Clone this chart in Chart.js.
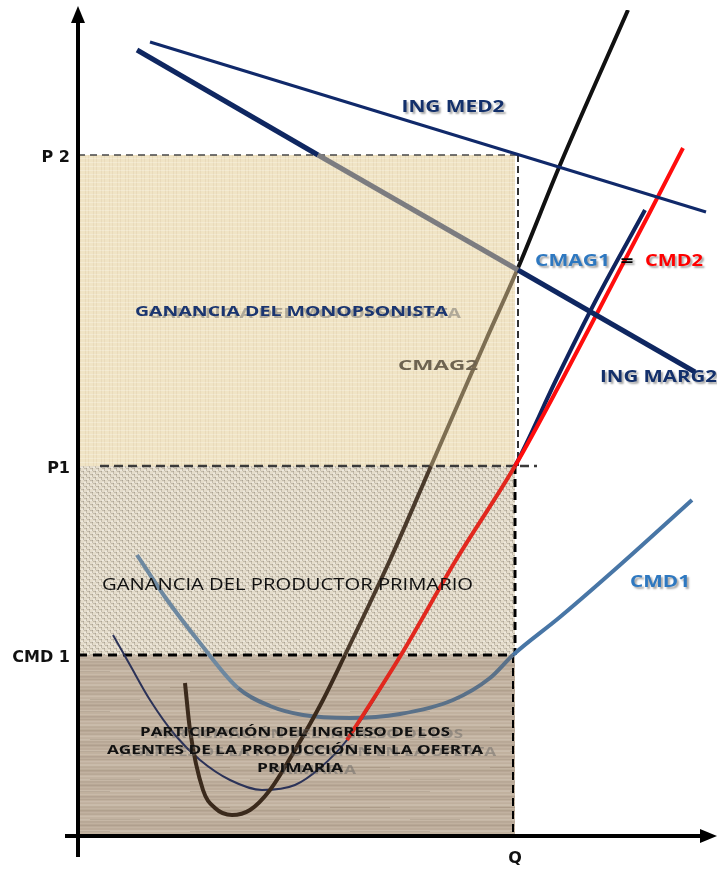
<!DOCTYPE html>
<html>
<head>
<meta charset="utf-8">
<script src="https://cdn.jsdelivr.net/npm/chart.js@4.4.1/dist/chart.umd.min.js"></script>
<style>
html,body{margin:0;padding:0;background:#fff;}
#wrap{width:717px;height:869px;position:relative;}
</style>
</head>
<body>
<div id="wrap"><canvas id="c"></canvas></div>
<script>
// ---- levels (price axis) and quantity ----
const P2 = 681, P1 = 370, CMD1_LEVEL = 181, Q = 437;
const yTickValues = [P2, P1, CMD1_LEVEL];
const yTickLabels = ['P 2', 'P1', 'CMD 1'];
const xTickValues = [Q];
const xTickLabels = ['Q'];

// ---- curves ----
const ingMed2X  = [72, 628];
const ingMed2Y  = [794, 624];
const ingMarg2X = [59, 240, 440, 617];
const ingMarg2Y = [786, 681, 566, 464];
const cmag2X = [107,112,125,137,154,172,192,217,245,267,312,353,408,440,482,550];
const cmag2Y = [153,106, 46, 28, 21, 26, 46, 86,136,181,276,370,496,568,671,826];
const cmd1X  = [59, 87,122,160,192,225,272,322,375,412,435,482,542,614];
const cmd1Y  = [281,239,193,148,130,121,118,122,136,158,181,219,271,336];
const cmag1X = [35, 52, 72, 97,122,152,184,217,242,269,323,378,437,478,518,567];
const cmag1Y = [201,171,136,101, 76, 56, 46, 51, 68, 96,181,276,370,456,536,626];
const cmd2X  = [269,323,378,437,484,526,572,605];
const cmd2Y  = [ 96,181,276,370,456,536,624,688];

const toPts = (xs, ys) => xs.map((x, i) => ({x: x, y: ys[i]}));

// ---- textures ----
function makePattern(w, h, draw) {
  const c = document.createElement('canvas');
  c.width = w; c.height = h;
  const g = c.getContext('2d');
  draw(g, w, h);
  return g.createPattern(c, 'repeat');
}
const linen = makePattern(8, 8, (g, w, h) => {
  g.fillStyle = '#f0e4c5'; g.fillRect(0, 0, w, h);
  g.fillStyle = 'rgba(190,165,120,0.14)'; g.fillRect(0, 0, 1, h); g.fillRect(5, 0, 1, h);
  g.fillStyle = 'rgba(255,255,255,0.25)'; g.fillRect(0, 2, w, 1); g.fillRect(0, 6, w, 1);
});
const burlap = makePattern(6, 6, (g, w, h) => {
  g.fillStyle = '#e4dccb'; g.fillRect(0, 0, w, h);
  g.fillStyle = 'rgba(120,112,98,0.30)';
  g.fillRect(0, 0, 3, 1); g.fillRect(3, 3, 3, 1); g.fillRect(2, 0, 1, 3); g.fillRect(5, 3, 1, 3);
  g.fillStyle = 'rgba(255,255,255,0.4)';
  g.fillRect(0, 2, 2, 1); g.fillRect(3, 5, 2, 1);
});
const wood = makePattern(160, 40, (g, w, h) => {
  g.fillStyle = '#c0b09e'; g.fillRect(0, 0, w, h);
  for (let y = 0; y < h; y++) {
    const v = Math.sin(y * 1.7) * 0.5 + Math.sin(y * 0.45) * 0.5;
    g.fillStyle = v > 0 ? 'rgba(238,230,218,' + (v * 0.28).toFixed(3) + ')'
                        : 'rgba(110,92,75,' + (-v * 0.2).toFixed(3) + ')';
    g.fillRect(0, y, w, 1);
  }
  g.fillStyle = 'rgba(120,100,80,0.2)';
  g.fillRect(10, 7, 60, 1); g.fillRect(90, 19, 50, 1); g.fillRect(30, 31, 80, 1);
});

const base = {pointRadius: 0, fill: false, borderCapStyle: 'butt'};

const datasets = [
  // filled regions
  {...base, data: [{x:0,y:P2},{x:Q,y:P2}], fill: 'origin', backgroundColor: linen, borderWidth: 0, borderColor: 'transparent', order: 100},
  {...base, data: [{x:0,y:P1},{x:Q,y:P1}], fill: 'origin', backgroundColor: burlap, borderWidth: 0, borderColor: 'transparent', order: 99},
  {...base, data: [{x:0,y:CMD1_LEVEL},{x:Q,y:CMD1_LEVEL}], fill: 'origin', backgroundColor: wood, borderWidth: 0, borderColor: 'transparent', order: 98},
  // guide lines
  {...base, data: [{x:1,y:P2},{x:1,y:0}], borderColor: '#4a77a8', borderWidth: 1, order: 61},
  {...base, data: [{x:0,y:P2},{x:Q+3,y:P2}], borderColor: 'rgba(70,70,70,0.75)', borderWidth: 2, borderDash: [7,5], order: 60},
  {...base, data: [{x:Q+3,y:P2},{x:Q+3,y:P1}], borderColor: '#333', borderWidth: 2, borderDash: [7,4], order: 60},
  {...base, data: [{x:22,y:P1},{x:Q+22,y:P1}], borderColor: '#3a3a3a', borderWidth: 2.5, borderDash: [9,5], order: 60},
  {...base, data: [{x:Q,y:P1},{x:Q,y:CMD1_LEVEL}], borderColor: '#000', borderWidth: 3, borderDash: [8,5], order: 60},
  {...base, data: [{x:0,y:CMD1_LEVEL},{x:Q-2,y:CMD1_LEVEL}], borderColor: '#000', borderWidth: 3, borderDash: [9,6], order: 60},
  {...base, data: [{x:Q-2,y:CMD1_LEVEL},{x:Q-2,y:0}], borderColor: '#000', borderWidth: 2, borderDash: [8,5], order: 60},
  // curves
  {...base, label: 'CMD1', data: toPts(cmd1X, cmd1Y), cubicInterpolationMode: 'monotone', borderWidth: 4,
    segment: {borderColor: c => c.p0.parsed.x >= Q - 2 ? '#4876a6' : (c.p0.parsed.y >= CMD1_LEVEL ? '#6d88a0' : '#5a7189')}, order: 8},
  {...base, label: 'CMAG1', data: toPts(cmag1X, cmag1Y), cubicInterpolationMode: 'monotone',
    segment: {borderColor: c => c.p0.parsed.y >= P1 ? '#10245e' : '#2b3258',
              borderWidth: c => c.p0.parsed.y >= P1 ? 4 : 2}, order: 7},
  {...base, label: 'CMD2', data: toPts(cmd2X, cmd2Y), cubicInterpolationMode: 'monotone', borderWidth: 4,
    segment: {borderColor: c => c.p0.parsed.y >= P1 ? '#ff0d0d' : '#e2281e'}, order: 6},
  {...base, label: 'CMAG2', data: toPts(cmag2X, cmag2Y), cubicInterpolationMode: 'monotone', borderWidth: 4,
    segment: {borderColor: c => {
      const p = c.p0.parsed;
      if (p.x >= Q) return '#111';
      if (p.y >= P1) return '#7d6e52';
      if (p.y >= CMD1_LEVEL) return '#4a3a2b';
      return '#3b2a1c';
    }}, order: 5},
  {...base, label: 'ING MARG2', data: toPts(ingMarg2X, ingMarg2Y), borderWidth: 5,
    segment: {borderColor: c => (c.p0.parsed.x >= 200 && c.p0.parsed.x < Q) ? '#7c7c80' : '#0f2761'}, order: 4},
  {...base, label: 'ING MED2', data: toPts(ingMed2X, ingMed2Y), borderWidth: 3, borderColor: '#10296a', order: 3}
];

// ---- annotation texts (anchor in data units) ----
const notes = [
  {t: 'ING MED2', x: 375, y: 729, w: 103, s: 16.5, wt: 'bold', c: '#13306b', sh: true},
  {t: 'CMAG1', x: 494.5, y: 575, w: 75, s: 16.5, wt: 'bold', c: '#2e78c0', sh: true},
  {t: '=', x: 549, y: 575, w: 13, s: 16.5, wt: 'bold', c: '#000', sh: true},
  {t: 'CMD2', x: 596, y: 575, w: 58, s: 16.5, wt: 'bold', c: '#ff0000', sh: true},
  {t: 'ING MARG2', x: 580.5, y: 458, w: 117, s: 15.5, wt: 'bold', c: '#13306b', sh: true},
  {t: 'CMAG2', x: 360, y: 470, w: 80, s: 14.5, wt: 'bold', c: '#6e6350', sh: false},
  {t: 'CMD1', x: 582, y: 253, w: 60, s: 15.5, wt: 'bold', c: '#2e78c0', sh: true},
  {t: 'GANANCIA DEL MONOPSONISTA', x: 213.5, y: 524, w: 313, s: 15, wt: 'bold', c: '#1a3570', ghost: true},
  {t: 'GANANCIA DEL PRODUCTOR PRIMARIO', x: 209.5, y: 251, w: 371, s: 16.5, wt: 'normal', c: '#111'},
  {t: 'PARTICIPACIÓN DEL INGRESO DE LOS', x: 217, y: 104, w: 310, s: 12.5, wt: 'bold', c: '#111', ghost: true},
  {t: 'AGENTES DE LA PRODUCCIÓN EN LA OFERTA', x: 217, y: 86, w: 376, s: 12.5, wt: 'bold', c: '#111', ghost: true},
  {t: 'PRIMARIA', x: 222, y: 68, w: 86, s: 12.5, wt: 'bold', c: '#111', ghost: true}
];
const FAMILY = '"Open Sans", "Liberation Sans", sans-serif';

function drawFit(ctx, n, px, py, color) {
  ctx.font = n.wt + ' ' + n.s + 'px ' + FAMILY;
  const m = ctx.measureText(n.t).width;
  ctx.save();
  ctx.translate(px, py);
  ctx.scale(n.w / m, 1);
  ctx.textAlign = 'center';
  ctx.textBaseline = 'middle';
  ctx.fillStyle = color;
  ctx.fillText(n.t, 0, 0);
  ctx.restore();
}

const overlay = {
  id: 'overlay',
  afterDatasetsDraw(chart) {
    const ctx = chart.ctx, xs = chart.scales.x, ys = chart.scales.y;
    notes.forEach(n => {
      const px = xs.getPixelForValue(n.x), py = ys.getPixelForValue(n.y);
      if (n.ghost) drawFit(ctx, n, px + 13, py + 2, 'rgba(95,95,95,0.45)');
      ctx.save();
      if (n.sh) {
        ctx.shadowColor = 'rgba(0,0,0,0.35)';
        ctx.shadowOffsetX = 2; ctx.shadowOffsetY = 2; ctx.shadowBlur = 2;
      }
      drawFit(ctx, n, px, py, n.c);
      ctx.restore();
    });
    // axes with arrows
    const x0 = xs.getPixelForValue(0), y0 = ys.getPixelForValue(0);
    const yTop = ys.getPixelForValue(ys.max), xEnd = xs.getPixelForValue(xs.max);
    ctx.save();
    ctx.strokeStyle = '#000'; ctx.fillStyle = '#000'; ctx.lineWidth = 4;
    ctx.beginPath();
    ctx.moveTo(x0, y0 + 21); ctx.lineTo(x0, yTop + 10);
    ctx.moveTo(x0 - 13, y0); ctx.lineTo(xEnd - 14, y0);
    ctx.stroke();
    ctx.beginPath();
    ctx.moveTo(x0, yTop - 4); ctx.lineTo(x0 - 7, yTop + 13); ctx.lineTo(x0 + 7, yTop + 13); ctx.closePath();
    ctx.fill();
    ctx.beginPath();
    ctx.moveTo(xEnd, y0); ctx.lineTo(xEnd - 17, y0 - 7); ctx.lineTo(xEnd - 17, y0 + 7); ctx.closePath();
    ctx.fill();
    ctx.restore();
  }
};

const tickFont = {family: '"DejaVu Sans", "Liberation Sans", sans-serif', size: 16, weight: 'bold'};
const zeroPad = s => { s.paddingTop = 0; s.paddingBottom = 0; s.paddingLeft = 0; s.paddingRight = 0; };

new Chart(document.getElementById('c'), {
  type: 'line',
  data: {datasets: datasets},
  options: {
    responsive: true,
    maintainAspectRatio: false,
    animation: false,
    events: [],
    layout: {autoPadding: false, padding: {top: 10, right: 0, left: 0, bottom: 0}},
    plugins: {legend: {display: false}, tooltip: {enabled: false}, title: {display: false}},
    scales: {
      x: {
        type: 'linear', min: 0, max: 639,
        grid: {display: false, drawTicks: false}, border: {display: false},
        afterBuildTicks: s => { s.ticks = xTickValues.map(v => ({value: v})); },
        afterFit: s => { s.height = 33; zeroPad(s); },
        ticks: {autoSkip: false, maxRotation: 0, padding: 13, color: '#111', font: tickFont,
          callback: v => { const i = xTickValues.indexOf(v); return i >= 0 ? xTickLabels[i] : ''; }}
      },
      y: {
        type: 'linear', min: 0, max: 826,
        grid: {display: false, drawTicks: false}, border: {display: false},
        afterBuildTicks: s => { s.ticks = yTickValues.map(v => ({value: v})); },
        afterFit: s => { s.width = 78; zeroPad(s); },
        ticks: {autoSkip: false, padding: 8, labelOffset: 3, color: '#111', font: tickFont,
          callback: v => { const i = yTickValues.indexOf(v); return i >= 0 ? yTickLabels[i] : ''; }}
      }
    }
  },
  plugins: [overlay]
});
</script>
</body>
</html>
